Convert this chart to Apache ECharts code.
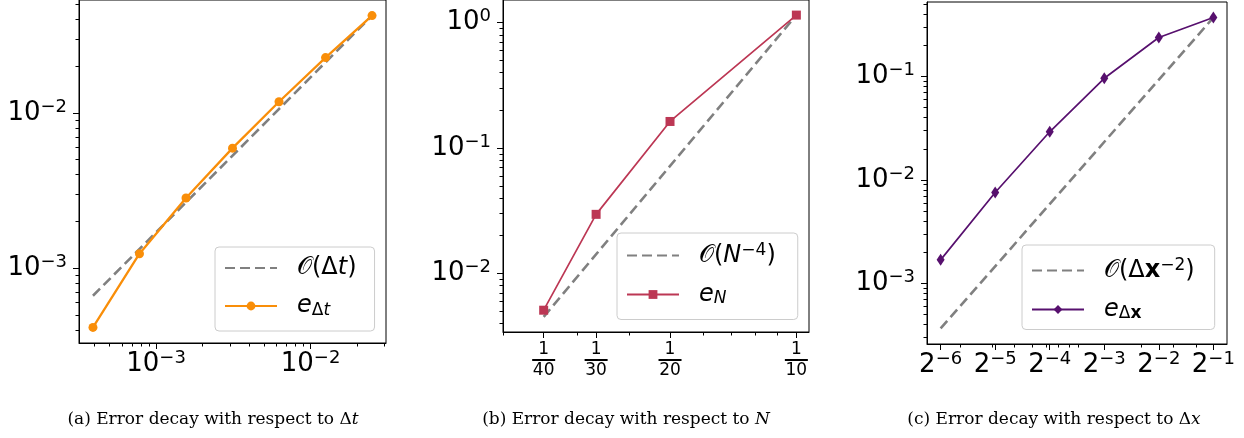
<!DOCTYPE html>
<html>
<head>
<meta charset="utf-8">
<script src="https://cdn.jsdelivr.net/npm/echarts@6/dist/echarts.min.js"></script>
<style>
  html, body { margin: 0; padding: 0; background: #fff; }
  #chart { width: 1244px; height: 438px; }
</style>
</head>
<body>
<div id="chart"></div>
<script>
// ---- (a) error vs time step ----
const dtSteps   = [0.000390625, 0.00078125, 0.0015625, 0.003125, 0.00625, 0.0125, 0.025];
const dtErrors  = [4.16e-4, 1.24e-3, 2.83e-3, 5.93e-3, 1.18e-2, 2.27e-2, 4.23e-2];
const dtRefX    = [0.000390625, 0.025];
const dtRefY    = [6.65e-4, 4.23e-2];
const dtXTicks  = [1e-3, 1e-2];
const dtYTicks  = [1e-3, 1e-2];

// ---- (b) error vs number of modes N (plotted against 1/N) ----
const nDenominators = [40, 30, 20, 10];
const nErrors   = [5.09e-3, 2.96e-2, 0.163, 1.15];
const nRefX     = [1 / 40, 1 / 10];
const nRefY     = [4.5e-3, 1.15];
const nYTicks   = [1e-2, 1e-1, 1];

// ---- (c) error vs grid spacing ----
const dxExponents = [-6, -5, -4, -3, -2, -1];
const dxErrors  = [1.68e-3, 7.55e-3, 2.92e-2, 9.63e-2, 0.239, 0.373];
const dxRefX    = [Math.pow(2, -6), Math.pow(2, -1)];
const dxRefY    = [3.64e-4, 0.373];
const dxYTicks  = [1e-3, 1e-2, 1e-1];

const COLORS = { a: '#f98e09', b: '#bc3754', c: '#57106e', ref: '#808080' };
const FONT = 'DejaVu Sans';

// decimal log-minor positions (2..9 x 10^k) inside [lo, hi]
function logMinors(lo, hi) {
  const out = [];
  for (let e = Math.floor(Math.log10(lo)); e <= Math.ceil(Math.log10(hi)); e++) {
    for (let k = 2; k <= 9; k++) {
      const v = k * Math.pow(10, e);
      if (v >= lo && v <= hi) out.push(v);
    }
  }
  return out;
}
// axis limits padded by a fraction of the decade span on each side
function logPad(values, frac) {
  const lo = Math.log10(Math.min.apply(null, values));
  const hi = Math.log10(Math.max.apply(null, values));
  const m = (hi - lo) * frac;
  return [Math.pow(10, lo - m), Math.pow(10, hi + m)];
}
function pairs(xs, ys) { return xs.map((x, i) => [x, ys[i]]); }

const tickRich = {
  b: { fontSize: 26, fontFamily: FONT, color: '#000', lineHeight: 30 },
  s: { fontSize: 18, fontFamily: FONT, color: '#000', padding: [0, 0, 12, 0] }
};
function powLabel(base, e) {
  return '{b|' + base + '}{s|' + (e < 0 ? '\u2212' : '') + Math.abs(e) + '}';
}
const pow10Label = v => powLabel(10, Math.round(Math.log10(v)));
const pow2Label = v => powLabel(2, Math.round(Math.log2(v)));
const fracLabel = v => '{n|1}\n{bar| }\n{d|' + Math.round(1 / v) + '}';
const fracRich = {
  n: { fontSize: 17, fontFamily: FONT, color: '#000', lineHeight: 17 },
  bar: { width: 23, height: 2, lineHeight: 4, fontSize: 2, backgroundColor: '#000' },
  d: { fontSize: 17, fontFamily: FONT, color: '#000', lineHeight: 17 }
};

// a main axis (major ticks + labels) and an overlaid axis carrying the minor ticks
function logAxisPair(gridIndex, pos, range, majors, formatter, rich, margin) {
  const common = { type: 'log', logBase: 10, gridIndex, position: pos, min: range[0], max: range[1],
                   splitLine: { show: false }, offset: 0 };
  return [
    Object.assign({}, common, {
      axisLine: { show: true, lineStyle: { color: '#000', width: 1 } },
      axisTick: { show: true, customValues: majors, length: 6, lineStyle: { color: '#000', width: 1 } },
      axisLabel: { show: true, customValues: majors, formatter, rich, margin, color: '#000' }
    }),
    Object.assign({}, common, {
      axisLine: { show: false },
      axisTick: { show: true, customValues: logMinors(range[0], range[1]), length: 3.5,
                  lineStyle: { color: '#000', width: 1 } },
      axisLabel: { show: false }
    })
  ];
}

const aX = logPad(dtSteps, 0.05), aY = logPad(dtErrors.concat(dtRefY), 0.05);
const bX = [0.02, logPad(nRefX, 0.05)[1]], bY = logPad(nErrors.concat(nRefY), 0.05);
const cXv = dxExponents.map(e => Math.pow(2, e));
const cX = logPad(cXv, 0.05), cY = logPad(dxErrors.concat(dxRefY), 0.05);

const xAxes = [].concat(
  logAxisPair(0, 'bottom', aX, dtXTicks, pow10Label, tickRich, 6),
  logAxisPair(1, 'bottom', bX, nDenominators.map(n => 1 / n), fracLabel, fracRich, 9),
  logAxisPair(2, 'bottom', cX, cXv, pow2Label, tickRich, 6)
);
const yAxes = [].concat(
  logAxisPair(0, 'left', aY, dtYTicks, pow10Label, tickRich, 12),
  logAxisPair(1, 'left', bY, nYTicks, pow10Label, tickRich, 12),
  logAxisPair(2, 'left', cY, dxYTicks, pow10Label, tickRich, 12)
);

function refSeries(name, p, xs, ys) {
  return { name, type: 'line', xAxisIndex: 2 * p, yAxisIndex: 2 * p, data: pairs(xs, ys),
           symbol: 'none', color: COLORS.ref,
           lineStyle: { color: COLORS.ref, width: 2.6, type: [10, 5] }, z: 2 };
}
function errSeries(name, p, xs, ys, color, symbol, size, width) {
  return { name, type: 'line', xAxisIndex: 2 * p, yAxisIndex: 2 * p, data: pairs(xs, ys),
           symbol, symbolSize: size, showSymbol: true, color,
           itemStyle: { color }, lineStyle: { color, width }, z: 3 };
}

const legendNames = {
  refA: '{o|\u{1D4AA}}{t|(\u0394}{it|t}{t|)}',
  errA: '{e|e}{sub|\u0394}{subi|t}',
  refB: '{o|\u{1D4AA}}{t|(}{it|N}{sup|\u22124}{t|)}',
  errB: '{e|e}{subi|N}',
  refC: '{o|\u{1D4AA}}{t|(\u0394}{bx|x}{sup|\u22122}{t|)}',
  errC: '{e|e}{sub|\u0394}{subb|x}'
};
const legendRich = {
  o:    { fontSize: 24, fontFamily: FONT, color: '#000', padding: [0, 0, 0, 15], lineHeight: 28 },
  t:    { fontSize: 24, fontFamily: FONT, color: '#000' },
  it:   { fontSize: 24, fontFamily: FONT, fontStyle: 'italic', color: '#000' },
  bx:   { fontSize: 24, fontFamily: FONT, fontWeight: 'bold', color: '#000' },
  sup:  { fontSize: 17, fontFamily: FONT, color: '#000', padding: [0, 0, 10, 0] },
  e:    { fontSize: 24, fontFamily: FONT, fontStyle: 'italic', color: '#000', padding: [0, 0, 0, 15], lineHeight: 28 },
  sub:  { fontSize: 17, fontFamily: FONT, color: '#000', padding: [9, 0, 0, 0] },
  subi: { fontSize: 17, fontFamily: FONT, fontStyle: 'italic', color: '#000', padding: [9, 0, 0, 0] },
  subb: { fontSize: 17, fontFamily: FONT, fontWeight: 'bold', color: '#000', padding: [9, 0, 0, 0] }
};
// dashed reference entries show only their line in the legend
function legendData(refName, errName) {
  return [{ name: refName, itemStyle: { opacity: 0 } }, { name: errName }];
}
function legend(data, left, top, gap, padding, iconH) {
  return { data, left, top, orient: 'vertical', itemWidth: 52, itemHeight: iconH, itemGap: gap,
           padding, backgroundColor: 'rgba(255,255,255,0.8)', borderColor: '#cccccc', borderWidth: 1,
           borderRadius: 4, selectedMode: false,
           formatter: n => legendNames[n], textStyle: { color: '#000', rich: legendRich } };
}

const CAPTION_FONT = 'DejaVu Serif';
const captionRich = {
  r: { fontFamily: CAPTION_FONT, fontSize: 17, color: '#000' },
  i: { fontFamily: CAPTION_FONT, fontSize: 17, fontStyle: 'italic', color: '#000' }
};
function caption(x, text) {
  return { type: 'text', x, y: 420, silent: true,
           style: { text, align: 'center', verticalAlign: 'middle', fontFamily: CAPTION_FONT,
                    fontSize: 17, fill: '#000', rich: captionRich } };
}

const chart = echarts.init(document.getElementById('chart'), null, { renderer: 'canvas' });
chart.setOption({
  animation: false,
  backgroundColor: '#fff',
  grid: [
    { left: 79, top: 0, width: 307, height: 343, show: true, borderColor: '#000', borderWidth: 1, outerBoundsMode: 'none' },
    { left: 503, top: 0, width: 306, height: 332, show: true, borderColor: '#000', borderWidth: 1, outerBoundsMode: 'none' },
    { left: 927, top: 2, width: 300, height: 342, show: true, borderColor: '#000', borderWidth: 1, outerBoundsMode: 'none' }
  ],
  xAxis: xAxes,
  yAxis: yAxes,
  legend: [
    legend(legendData('refA', 'errA'), 215, 247, 14, [9, 18, 12, 9], 11),
    legend(legendData('refB', 'errB'), 617, 233, 15, [9, 22, 12, 9], 11),
    legend(legendData('refC', 'errC'), 1022, 245, 15, [12, 20, 7, 9], 11)
  ],
  series: [
    refSeries('refA', 0, dtRefX, dtRefY),
    errSeries('errA', 0, dtSteps, dtErrors, COLORS.a, 'circle', 9, 2.3),
    refSeries('refB', 1, nRefX, nRefY),
    errSeries('errB', 1, nDenominators.map(n => 1 / n), nErrors, COLORS.b, 'rect', 9, 1.7),
    refSeries('refC', 2, dxRefX, dxRefY),
    errSeries('errC', 2, cXv, dxErrors, COLORS.c, 'diamond', [8, 12], 1.7)
  ],
  graphic: [
    caption(213, '(a) Error decay with respect to {r|\u0394}{i|t}'),
    caption(626, '(b) Error decay with respect to {i|N}'),
    caption(1054, '(c) Error decay with respect to {r|\u0394}{i|x}')
  ]
});
</script>
</body>
</html>
